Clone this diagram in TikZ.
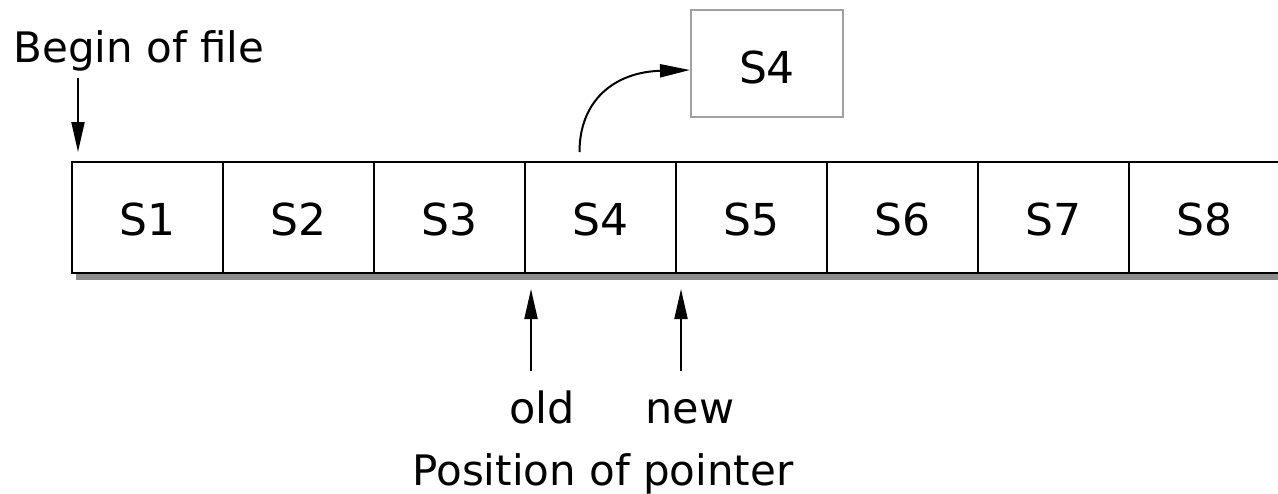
\documentclass[tikz,border=0pt]{standalone}
\usepackage{fontspec}
\setmainfont{DejaVu Sans}
\usetikzlibrary{arrows.meta,calc}
\definecolor{shadowgray}{HTML}{8C8C8C}
\definecolor{boxgray}{HTML}{A0A0A0}
\begin{document}
\begin{tikzpicture}[x=1pt,y=-1pt,
  cell/.style={draw, line width=2pt, fill=white, minimum width=151pt, minimum height=111pt,
    inner sep=0pt, text height=35pt, text depth=0pt, font=\fontsize{44}{50}\selectfont},
  topbox/.style={draw=boxgray, line width=2pt, fill=white, minimum width=152pt, minimum height=107pt,
    inner sep=0pt, text height=39pt, text depth=0pt, font=\fontsize{44}{50}\selectfont},
  lbl/.style={inner sep=0pt, anchor=base},
  arr/.style={line width=2pt, -{Triangle[length=30pt,width=13pt]}}]
\useasboundingbox (0,0) rectangle (1278,493);
% shadow of the strip
\fill[shadowgray] (76,167) rectangle (1284,280);
% cells
\foreach \i in {1,...,8}
  \node[cell] (c\i) at ({72+151*(\i-0.5)},217.5) {S\i};
% copied record
\node[topbox] (top) at (767,63.5) {S4};
% labels
\node[lbl, font=\fontsize{42}{50}\selectfont] (begin) at (139,62) {Begin of file};
\node[lbl, font=\fontsize{43}{50}\selectfont] (old) at (542,423) {old};
\node[lbl, font=\fontsize{43}{50}\selectfont] (new) at (690,423) {new};
\node[lbl, font=\fontsize{42}{50}\selectfont] (pos) at (603,485) {Position of pointer};
% arrows
\draw[arr] ($(c1.north west)+(7,-83)$) -- ($(c1.north west)+(7,-9)$);
\draw[arr] ($(c4.south west)+(7,97)$) -- ($(c4.south west)+(7,15)$);
\draw[arr] ($(c5.south west)+(6,97)$) -- ($(c5.south west)+(6,15)$);
\draw[arr] ($(c4.north)+(-21,-9)$) .. controls (579.5,100) and (615,72) .. ($(top.west)+(0,6.5)$);
\end{tikzpicture}
\end{document}
